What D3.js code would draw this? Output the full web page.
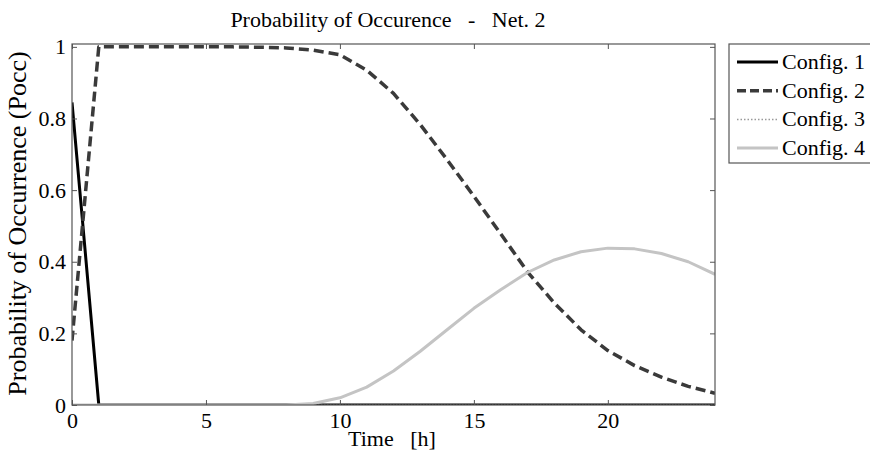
<!DOCTYPE html>
<html>
<head>
<meta charset="utf-8">
<script src="https://cdn.jsdelivr.net/npm/d3@7"></script>
<style>
  html, body { margin: 0; padding: 0; background: #fff; }
  svg { display: block; }
  text { font-family: "Liberation Serif", "Times New Roman", serif; fill: #000; }
</style>
</head>
<body>
<svg id="chart" width="870" height="462"></svg>
<script>
// ---- Data ----
const hours = d3.range(0, 25); // 0..24 h
const config1 = [0.845, 0,0,0,0,0,0,0,0,0,0,0,0,0,0,0,0,0,0,0,0,0,0,0,0];
const config2 = [0.18, 1.0, 1.0, 1.0, 1.0, 1.0, 1.0, 0.999, 0.997, 0.991, 0.978, 0.935, 0.87, 0.783, 0.685, 0.583, 0.478, 0.372, 0.285, 0.21, 0.152, 0.11, 0.078, 0.052, 0.033];
const config3 = [0,0,0,0,0,0,0,0,0,0,0,0,0,0,0,0,0,0,0,0,0,0,0,0,0];
const config4 = [0,0,0,0,0,0,0,0,0, 0.004, 0.02, 0.05, 0.095, 0.15, 0.21, 0.27, 0.322, 0.37, 0.405, 0.428, 0.438, 0.436, 0.423, 0.4, 0.365];
const seriesNames = ["Config. 1", "Config. 2", "Config. 3", "Config. 4"];
const xTicks = [0, 5, 10, 15, 20];
const yTicks = [0, 0.2, 0.4, 0.6, 0.8, 1];

const titleText = "Probability of Occurence   -   Net. 2";
const xLabel = "Time   [h]";
const yLabel = "Probability of Occurrence (Pocc)";

// ---- Layout ----
const svg = d3.select("#chart");
const L = 72, R = 715, T = 44, B = 405;

const x = d3.scaleLinear().domain([0, 24]).range([L, R]);
const y = d3.scaleLinear().domain([0, 1.008]).range([B, T]);

const styles = [
  { stroke: "#000000", width: 3, dash: null },
  { stroke: "#3a3a3a", width: 3.5, dash: "10,5" },
  { stroke: "#444444", width: 1.5, dash: "1.5,1.5" },
  { stroke: "#c4c4c4", width: 3, dash: null }
];
const allSeries = [config1, config2, config3, config4];

svg.append("defs").append("clipPath").attr("id", "plotclip")
  .append("rect").attr("x", L).attr("y", T - 3).attr("width", R - L).attr("height", B - T + 3);

// Lines
const line = d3.line().x((d, i) => x(hours[i])).y(d => y(d));
const g = svg.append("g").attr("clip-path", "url(#plotclip)");
allSeries.forEach((s, k) => {
  g.append("path")
    .attr("d", line(s))
    .attr("fill", "none")
    .attr("stroke", styles[k].stroke)
    .attr("stroke-width", styles[k].width)
    .attr("stroke-dasharray", styles[k].dash)
    .attr("stroke-linejoin", "round");
});

// Axes box
const axisColor = "#555";
const fs = 22;
const xAxisB = d3.axisBottom(x).tickValues(xTicks).tickSize(-5).tickPadding(7).tickFormat(d3.format("d"));
const xAxisT = d3.axisTop(x).tickValues(xTicks).tickSize(-5).tickFormat("");
const yAxisL = d3.axisLeft(y).tickValues(yTicks).tickSize(-5).tickPadding(6).tickFormat(d => d === 0 || d === 1 ? String(d) : d3.format(".1f")(d));
const yAxisR = d3.axisRight(y).tickValues(yTicks).tickSize(-5).tickFormat("");

function styleAxis(sel) {
  sel.select(".domain").remove();
  sel.selectAll(".tick line").attr("stroke", axisColor).attr("stroke-width", 1);
  sel.selectAll(".tick text").attr("font-family", "Liberation Serif, serif").attr("font-size", fs).attr("fill", "#000");
}
svg.append("g").attr("transform", `translate(0,${B})`).call(xAxisB).call(styleAxis);
svg.append("g").attr("transform", `translate(0,${T})`).call(xAxisT).call(styleAxis);
svg.append("g").attr("transform", `translate(${L},0)`).call(yAxisL).call(styleAxis);
svg.append("g").attr("transform", `translate(${R},0)`).call(yAxisR).call(styleAxis);

svg.append("rect").attr("x", L).attr("y", T).attr("width", R - L).attr("height", B - T)
  .attr("fill", "none").attr("stroke", axisColor).attr("stroke-width", 1.2);

// Title and labels
svg.append("text").attr("x", 388).attr("y", 27).attr("text-anchor", "middle")
  .attr("font-size", 22).style("white-space", "pre").text(titleText);
svg.append("text").attr("x", 392).attr("y", 446).attr("text-anchor", "middle")
  .attr("font-size", 22).style("white-space", "pre").text(xLabel);
svg.append("text").attr("transform", `translate(26,${(T + B) / 2 - 1}) rotate(-90)`)
  .attr("text-anchor", "middle").attr("font-size", 26).text(yLabel);

// Legend
const lg = svg.append("g");
lg.append("rect").attr("x", 729).attr("y", 44).attr("width", 150).attr("height", 119)
  .attr("fill", "#fff").attr("stroke", axisColor).attr("stroke-width", 1.2);
seriesNames.forEach((name, k) => {
  const yy = 62 + k * 28.7;
  lg.append("line").attr("x1", 737).attr("x2", 778).attr("y1", yy).attr("y2", yy)
    .attr("stroke", k === 2 ? "#999" : styles[k].stroke)
    .attr("stroke-width", styles[k].width)
    .attr("stroke-dasharray", k === 1 ? "9,4" : (k === 2 ? "1.5,2" : styles[k].dash));
  lg.append("text").attr("x", 782).attr("y", yy + 7).attr("font-size", 22).text(name);
});
</script>
</body>
</html>
